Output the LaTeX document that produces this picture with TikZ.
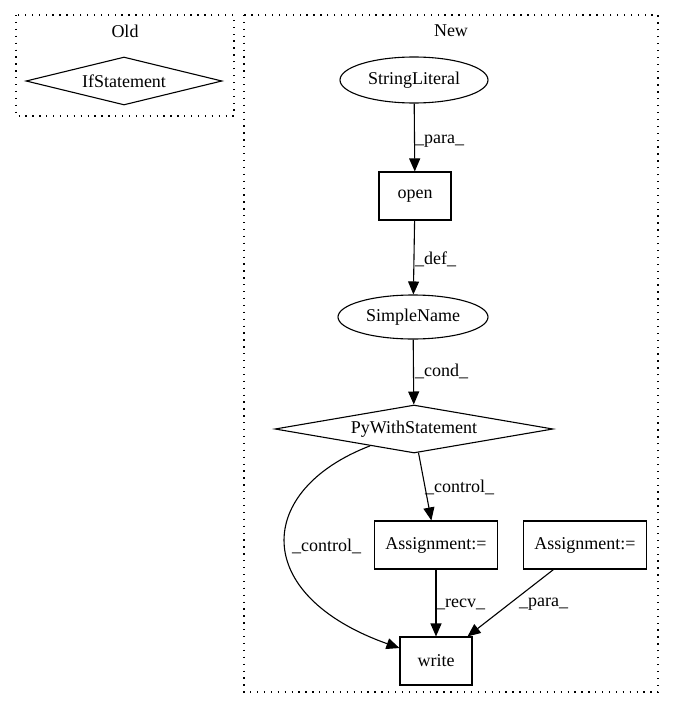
\documentclass[tikz,border=0pt]{standalone}
\usepackage{fontspec}
\setmainfont{Liberation Serif}
\usetikzlibrary{shapes.geometric,arrows.meta}

\tikzset{
    every node/.style={font=\fontsize{18}{21}\selectfont},
    box/.style={draw, line width=1.1pt, rectangle, minimum width=72pt, minimum height=48pt, inner xsep=11pt},
    oval/.style={draw, line width=1.1pt, ellipse, minimum width=150pt, minimum height=44pt, inner sep=2pt},
    cond/.style={draw, line width=1.1pt, diamond, aspect=5.8, inner sep=0pt, minimum height=48pt},
    cluster/.style={line width=1.1pt, dash pattern=on 1.3pt off 5.6pt},
    edge/.style={line width=1.1pt, -{Triangle[length=13pt,width=11pt]}},
    lbl/.style={anchor=west, inner sep=0pt}
}

\begin{document}
\begin{tikzpicture}[x=1pt,y=-1pt]
    \useasboundingbox (0,0) rectangle (675,712);

    % Clusters
    \draw[cluster] (16,15) rectangle (234,116);
    \node (old) at (125,31) {Old};
    \draw[cluster] (244,15) rectangle (658,692);
    \node (new) at (451,31) {New};

    % Old
    \node[cond, minimum width=196pt] (ifst) at (124,81) {IfStatement};

    % New
    \node[oval, minimum width=148pt, minimum height=46pt] (strlit) at (414,80) {StringLiteral};
    \node[box] (open) at (415,196) {open};
    \node[oval] (sname) at (413,317) {SimpleName};
    \node[cond, minimum width=278pt] (pws) at (414,429) {PyWithStatement};
    \node[box] (asg1) at (436,545) {Assignment:=};
    \node[box] (asg2) at (585,545) {Assignment:=};
    \node[box] (write) at (436,661) {write};

    % Edges
    \draw[edge] (strlit) -- (open);
    \node[lbl] (l1) at (415,141) {\_para\_};
    \draw[edge] (open) -- (sname);
    \node[lbl] (l2) at (415,259) {\_def\_};
    \draw[edge] (sname) -- (pws);
    \node[lbl] (l3) at (415,371) {\_cond\_};
    \draw[edge] (pws) -- (asg1);
    \node[lbl] (l4) at (425,487) {\_control\_};
    \draw[edge] (pws) .. controls (255,490) and (250,595) .. (write);
    \node[lbl] (l5) at (292,546) {\_control\_};
    \draw[edge] (asg1) -- (write);
    \node[lbl] (l6) at (436,604) {\_recv\_};
    \draw[edge] (asg2) -- (write);
    \node[lbl] (l7) at (519,604) {\_para\_};
\end{tikzpicture}
\end{document}
